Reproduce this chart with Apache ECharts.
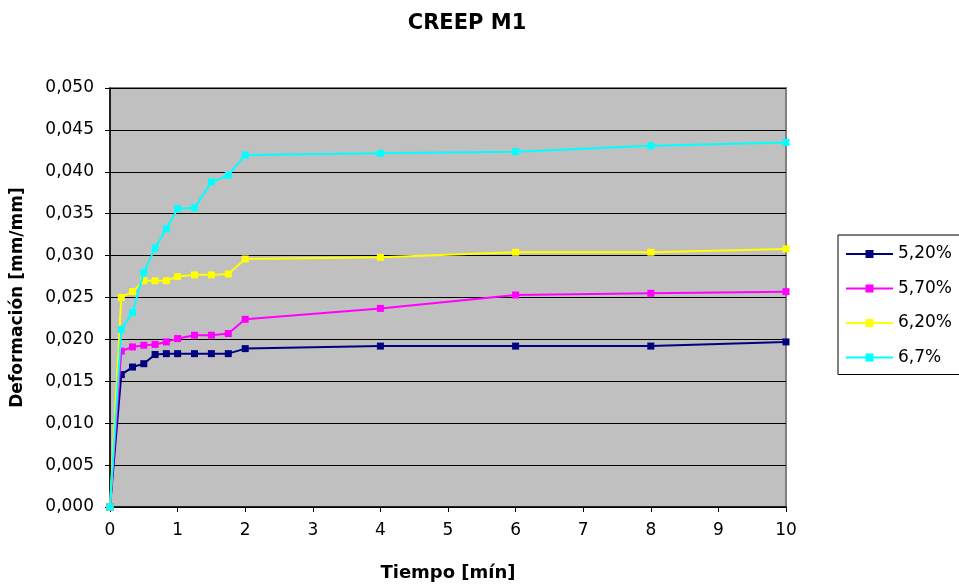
<!DOCTYPE html>
<html>
<head>
<meta charset="utf-8">
<script src="https://cdn.jsdelivr.net/npm/echarts@6/dist/echarts.min.js"></script>
<style>
  html, body { margin: 0; padding: 0; background: #fff; }
  #chart { width: 959px; height: 587px; }
</style>
</head>
<body>
<div id="chart"></div>
<script>
// Time in minutes for each reading
const tiempo = [0, 0.167, 0.333, 0.5, 0.667, 0.833, 1, 1.25, 1.5, 1.75, 2, 4, 6, 8, 10];

// Deformation [mm/mm] per load level
const def520 = [0, 0.0158, 0.0167, 0.0171, 0.0182, 0.0183, 0.0183, 0.0183, 0.0183, 0.0183, 0.0189, 0.0192, 0.0192, 0.0192, 0.0197];
const def570 = [0, 0.0186, 0.0191, 0.0193, 0.0194, 0.0197, 0.0201, 0.0205, 0.0205, 0.0207, 0.0224, 0.0237, 0.0253, 0.0255, 0.0257];
const def620 = [0, 0.0250, 0.0257, 0.0270, 0.0270, 0.0270, 0.0275, 0.0277, 0.0277, 0.0278, 0.0296, 0.0298, 0.0304, 0.0304, 0.0308];
const def670 = [0, 0.0212, 0.0232, 0.0280, 0.0309, 0.0332, 0.0356, 0.0357, 0.0388, 0.0396, 0.0420, 0.0422, 0.0424, 0.0431, 0.0435];

const seriesNames = ['5,20%', '5,70%', '6,20%', '6,7%'];
const seriesData = [def520, def570, def620, def670];
const seriesColors = ['#000080', '#FF00FF', '#FFFF00', '#00FFFF'];

const FONT = 'DejaVu Sans, Liberation Sans, Arial, sans-serif';

const chart = echarts.init(document.getElementById('chart'), null, { renderer: 'canvas' });

const series = seriesNames.map((name, i) => ({
  name: name,
  type: 'line',
  data: tiempo.map((t, j) => [t, seriesData[i][j]]),
  symbol: 'rect',
  symbolSize: 7,
  showSymbol: true,
  lineStyle: { color: seriesColors[i], width: 2 },
  itemStyle: { color: seriesColors[i] },
  emphasis: { disabled: true },
  animation: false,
  z: 3 + i
}));

chart.setOption({
  animation: false,
  backgroundColor: '#ffffff',
  title: {
    text: 'CREEP M1',
    left: 462,
    textAlign: 'center',
    top: 8,
    textStyle: { fontFamily: FONT, fontSize: 21, fontWeight: 'bold', color: '#000' }
  },
  grid: {
    left: 110, right: 173, top: 88, bottom: 80,
    show: true,
    backgroundColor: '#C0C0C0',
    borderColor: '#808080',
    borderWidth: 2
  },
  legend: {
    orient: 'vertical',
    left: 838,
    top: 235,
    width: 140,
    padding: [10, 90, 8, 7],
    itemGap: 16.5,
    itemWidth: 47,
    itemHeight: 10,
    backgroundColor: '#ffffff',
    borderColor: '#000000',
    borderWidth: 1,
    textStyle: { fontFamily: FONT, fontSize: 17, color: '#000', lineHeight: 18 },
    data: seriesNames
  },
  xAxis: {
    type: 'value',
    min: 0, max: 10, interval: 1,
    name: 'Tiempo [mín]',
    nameLocation: 'middle',
    nameGap: 57,
    nameTextStyle: { fontFamily: FONT, fontSize: 18, fontWeight: 'bold', color: '#000', verticalAlign: 'top' },
    axisLine: { show: true, onZero: false, lineStyle: { color: '#000', width: 1.5 } },
    axisTick: { show: true, length: 5, lineStyle: { color: '#000' } },
    axisLabel: { fontFamily: FONT, fontSize: 17, color: '#000', margin: 15 },
    splitLine: { show: false }
  },
  yAxis: {
    type: 'value',
    min: 0, max: 0.05, interval: 0.005,
    name: 'Deformación [mm/mm]',
    nameLocation: 'middle',
    nameGap: 84,
    nameTextStyle: { fontFamily: FONT, fontSize: 17, fontWeight: 'bold', color: '#000' },
    axisLine: { show: true, onZero: false, lineStyle: { color: '#000', width: 1.5 } },
    axisTick: { show: true, length: 5, lineStyle: { color: '#000' } },
    axisLabel: {
      fontFamily: FONT, fontSize: 17, color: '#000', margin: 16,
      formatter: v => v.toFixed(3).replace('.', ',')
    },
    splitLine: { show: true, lineStyle: { color: '#000', width: 1 } }
  },
  series: series
});
</script>
</body>
</html>
